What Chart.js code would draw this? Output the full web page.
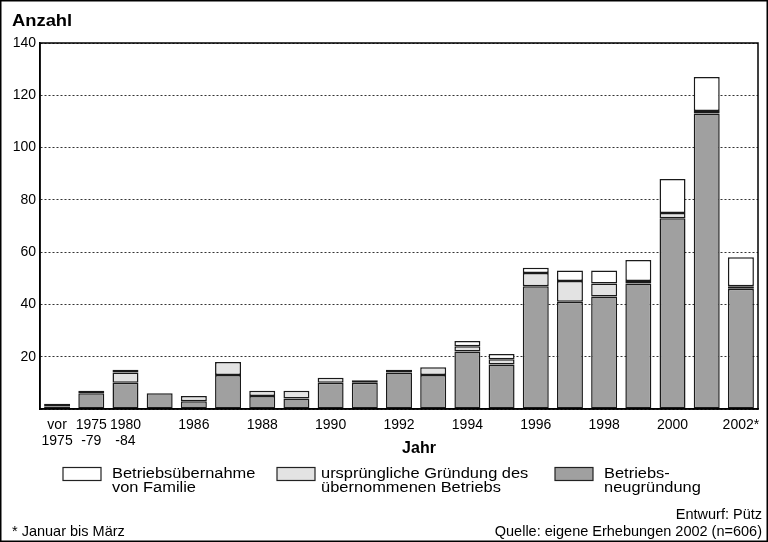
<!DOCTYPE html>
<html><head><meta charset="utf-8">
<script src="https://cdn.jsdelivr.net/npm/chart.js@4.4.1/dist/chart.umd.min.js"></script>
<style>html,body{margin:0;padding:0;background:#fff}canvas{display:block}</style>
</head><body>
<canvas id="c" width="768" height="542"></canvas>
<script>
// ---- data ----
const categories = ["vor 1975","1975-79","1980-84","1985","1986","1987","1988","1989","1990","1991","1992","1993","1994","1995","1996","1997","1998","1999","2000","2001","2002"];
const tickLabels = [["vor","1975"],["1975","-79"],["1980","-84"],"","1986","","1988","","1990","","1992","","1994","","1996","","1998","","2000","","2002*"];
const neugruendung  = [1,6,10,6,3,13,5,4,10,10,14,13,22,17,47,41,43,48,73,113,46];
const urspruenglich = [1,0,4,0,2,5,2,3,2,1,0,3,2,2,5,8,5,1,2,1,1];
const uebernahme    = [0,1,1,0,0,0,0,0,0,0,1,0,2,2,2,4,5,8,13,13,11];
const yTicks = [20,40,60,80,100,120,140];
const seriesLabels = {
  uebernahme: ["Betriebsübernahme","von Familie"],
  urspruenglich: ["ursprüngliche Gründung des","übernommenen Betriebs"],
  neugruendung: ["Betriebs-","neugründung"]
};
const texts = {
  yTitle: "Anzahl",
  xTitle: "Jahr",
  note: "* Januar bis März",
  author: "Entwurf: Pütz",
  source: "Quelle: eigene Erhebungen 2002 (n=606)"
};

const FONT = "'Liberation Sans', Arial, sans-serif";
const GRAY = "#a0a0a0", LIGHT = "#e3e3e3", WHITE = "#ffffff", EDGE = "#1a1a1a";

function wideText(ctx, s, x, y, sx) {
  ctx.save(); ctx.translate(x, y); ctx.scale(sx, 1); ctx.fillText(s, 0, 0); ctx.restore();
}

const decor = {
  id: "decor",
  afterDraw(chart) {
    const ctx = chart.ctx, a = chart.chartArea;
    ctx.save();
    // outer frame
    ctx.strokeStyle = "#000"; ctx.lineWidth = 1.5;
    ctx.strokeRect(0.75, 0.75, chart.width - 1.5, chart.height - 1.5);
    // plot frame
    ctx.strokeRect(a.left, a.top, a.right - a.left, a.bottom - a.top);
    ctx.fillStyle = "#000";
    ctx.textBaseline = "alphabetic";
    ctx.textAlign = "left";
    ctx.font = "bold 17px " + FONT;
    wideText(ctx, texts.yTitle, 12, 26, 1.08);
    ctx.font = "bold 16px " + FONT;
    ctx.textAlign = "center";
    ctx.fillText(texts.xTitle, 419, 453);
    // legend
    const items = [
      {ds: 2, box: 63, text: 112},
      {ds: 1, box: 277, text: 321},
      {ds: 0, box: 555, text: 604}
    ];
    ctx.textAlign = "left";
    items.forEach(it => {
      const d = chart.data.datasets[it.ds];
      ctx.fillStyle = d.backgroundColor;
      ctx.fillRect(it.box, 467.5, 38, 13);
      ctx.strokeStyle = "#222"; ctx.lineWidth = 1.2;
      ctx.strokeRect(it.box, 467.5, 38, 13);
      ctx.fillStyle = "#000";
      ctx.font = "15.5px " + FONT;
      d.label.forEach((line, i) => wideText(ctx, line, it.text, 478 + i * 14, 1.06));
    });
    // footnotes
    ctx.font = "14.5px " + FONT;
    ctx.fillText(texts.note, 12, 536);
    ctx.textAlign = "right";
    ctx.fillText(texts.author, 762, 519);
    ctx.fillText(texts.source, 762, 536);
    ctx.restore();
  }
};

new Chart(document.getElementById("c"), {
  type: "bar",
  data: {
    labels: tickLabels,
    datasets: [
      {label: seriesLabels.neugruendung, data: neugruendung, backgroundColor: GRAY},
      {label: seriesLabels.urspruenglich, data: urspruenglich, backgroundColor: LIGHT},
      {label: seriesLabels.uebernahme, data: uebernahme, backgroundColor: WHITE}
    ].map(d => Object.assign(d, {borderColor: EDGE, borderWidth: 1.5, borderSkipped: false, barPercentage: 0.76, categoryPercentage: 1}))
  },
  options: {
    responsive: false,
    animation: false,
    devicePixelRatio: 1,
    layout: {padding: {left: 0, right: 10, top: 43, bottom: 83}},
    plugins: {legend: {display: false}, tooltip: {enabled: false}, title: {display: false}},
    scales: {
      x: {
        stacked: true,
        grid: {display: false, drawTicks: false, tickLength: 0},
        border: {display: true, color: "#000", width: 1.5},
        ticks: {color: "#000", font: {family: FONT, size: 14, lineHeight: 1.15}, autoSkip: false, maxRotation: 0, minRotation: 0, padding: 8},
        afterFit(s) { s.height = 50; }
      },
      y: {
        stacked: true,
        min: 0, max: 140,
        afterBuildTicks(s) { s.ticks = [0].concat(yTicks).map(v => ({value: v})); },
        ticks: {color: "#000", font: {family: FONT, size: 14}, padding: 4, callback: v => v === 0 ? "" : String(v)},
        grid: {color: "#333", lineWidth: 1, drawTicks: false},
        border: {display: true, color: "#000", width: 1.5, dash: [2, 2]},
        afterFit(s) { s.width = 40; }
      }
    }
  },
  plugins: [decor]
});
</script>
</body></html>
